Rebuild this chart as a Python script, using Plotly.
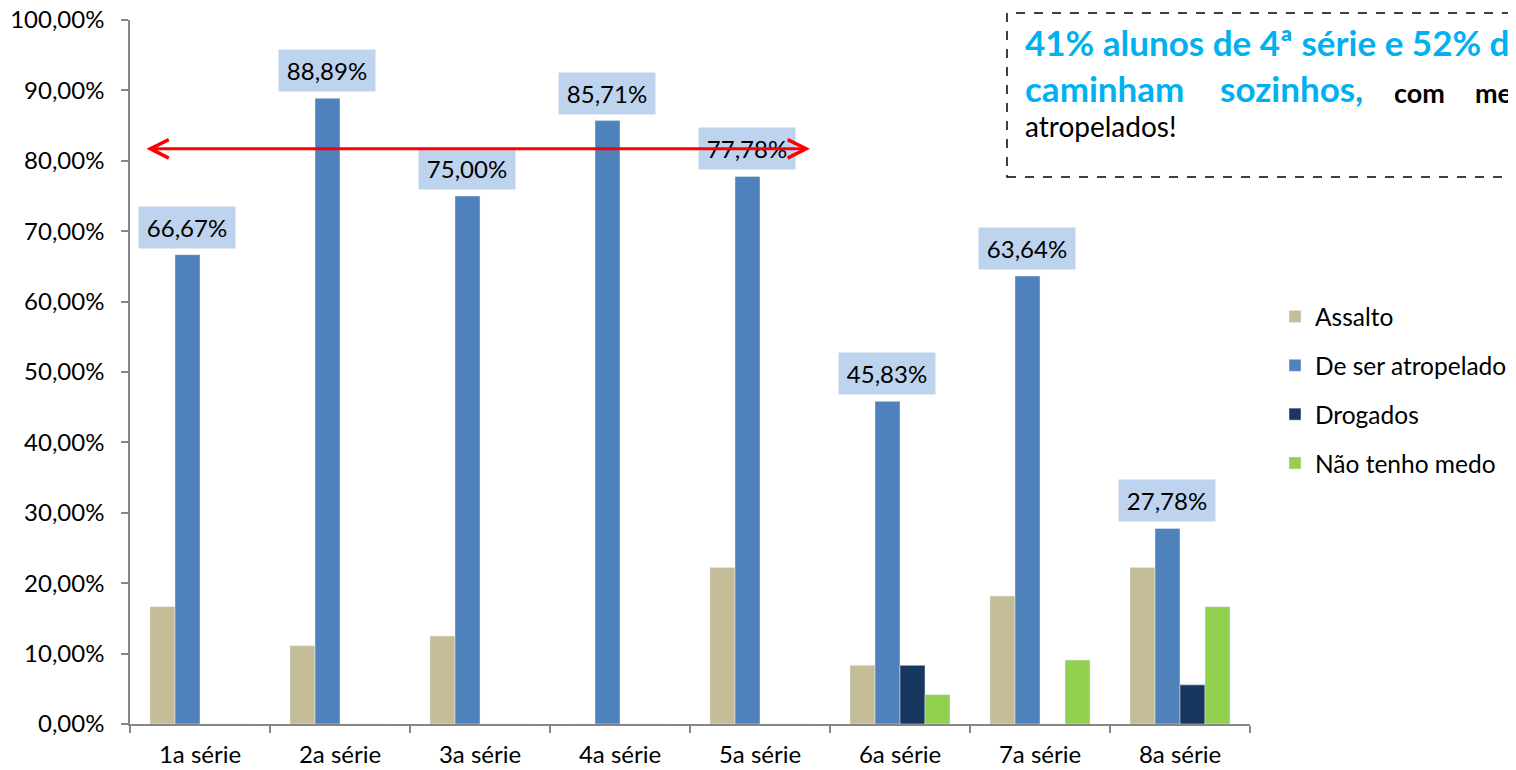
import plotly.graph_objects as go

categories = ["1a série", "2a série", "3a série", "4a série",
              "5a série", "6a série", "7a série", "8a série"]
series_names = ["Assalto", "De ser atropelado", "Drogados", "Não tenho medo"]
assalto = [0.1667, 0.1111, 0.1250, 0.0, 0.2222, 0.0833, 0.1818, 0.2222]
atropelado = [0.6667, 0.8889, 0.7500, 0.8571, 0.7778, 0.4583, 0.6364, 0.2778]
drogados = [0.0, 0.0, 0.0, 0.0, 0.0, 0.0833, 0.0, 0.0556]
sem_medo = [0.0, 0.0, 0.0, 0.0, 0.0, 0.0417, 0.0909, 0.1667]
y_ticks = [0.0, 0.1, 0.2, 0.3, 0.4, 0.5, 0.6, 0.7, 0.8, 0.9, 1.0]

colors = ["#C4BD97", "#4F81BD", "#17375E", "#92D050"]
FONT = "Lato"

# the page body has an 8px margin, so the figure is drawn 8px smaller
PAGE_PAD = 8
W, H = 1516 - PAGE_PAD, 770 - PAGE_PAD
L, R, T, B = 130 - PAGE_PAD, 266, 20 - PAGE_PAD, 46
BARGAP = 0.2857


def px2x(px):
    # px measured on the page
    return (px - PAGE_PAD - L) / (W - L - R)


def px2y(py):
    return (H - B - (py - PAGE_PAD)) / (H - T - B)


fig = go.Figure()
for name, vals, col in zip(series_names, [assalto, atropelado, drogados, sem_medo], colors):
    fig.add_trace(go.Bar(x=categories, y=vals, name=name, marker_color=col,
                         legendgroup=name))

# data labels on the "De ser atropelado" bars
cat_px = (W - L - R) / len(categories)
bar_px = cat_px * (1 - BARGAP) / 4
shift = (1 - 1.5) * bar_px
for c, v in zip(categories, atropelado):
    fig.add_annotation(x=c, y=v, text=f"{v*100:.2f}%".replace(".", ","),
                       showarrow=False, xshift=shift, yshift=6, width=84,
                       yanchor="bottom", bgcolor="#BED3EE", borderpad=6,
                       font=dict(family=FONT, size=24, color="black"))

# red double arrow
fig.add_annotation(x=4.357, y=0.817, ax=-0.393, ay=0.817, axref="x", ayref="y",
                   text="", showarrow=True, arrowcolor="#FF0000", arrowwidth=3,
                   arrowhead=5, arrowsize=1.2, arrowside="end+start",
                   startarrowhead=5, startarrowsize=1.2, standoff=0, startstandoff=0)

# dashed text box (runs past the right edge, as in the original slide)
fig.add_shape(type="rect", xref="paper", yref="paper",
              x0=px2x(1007), x1=px2x(1600), y0=px2y(177), y1=px2y(13),
              line=dict(color="black", width=1.5, dash="dash"))

cyan = "#00B0F0"
fig.add_annotation(xref="paper", yref="paper", x=px2x(1023), y=px2y(42),
                   xanchor="left", yanchor="middle", showarrow=False,
                   text="<b>41% alunos de 4ª série e 52% d</b>",
                   font=dict(family=FONT, size=35, color=cyan))
fig.add_annotation(xref="paper", yref="paper", x=px2x(1023), y=px2y(88),
                   xanchor="left", yanchor="middle", showarrow=False,
                   text="<b>caminham</b>", font=dict(family=FONT, size=35, color=cyan))
fig.add_annotation(xref="paper", yref="paper", x=px2x(1218), y=px2y(88),
                   xanchor="left", yanchor="middle", showarrow=False,
                   text="<b>sozinhos,</b>", font=dict(family=FONT, size=35, color=cyan))
fig.add_annotation(xref="paper", yref="paper", x=px2x(1392), y=px2y(92),
                   xanchor="left", yanchor="middle", showarrow=False,
                   text="<b>com</b>", font=dict(family=FONT, size=27, color="black"))
fig.add_annotation(xref="paper", yref="paper", x=px2x(1473), y=px2y(92),
                   xanchor="left", yanchor="middle", showarrow=False,
                   text="<b>me</b>", font=dict(family=FONT, size=27, color="black"))
fig.add_annotation(xref="paper", yref="paper", x=px2x(1023), y=px2y(126),
                   xanchor="left", yanchor="middle", showarrow=False,
                   text="atropelados!", font=dict(family=FONT, size=28, color="black"))

axis_col = "#868686"
fig.update_layout(
    width=W, height=H,
    margin=dict(l=L, r=R, t=T, b=B, autoexpand=False),
    paper_bgcolor="white", plot_bgcolor="white",
    barmode="group", bargap=BARGAP, bargroupgap=0,
    separators=",.",
    font=dict(family=FONT, size=24, color="black"),
    legend=dict(x=px2x(1275), y=px2y(390), xanchor="left", yanchor="middle",
                font=dict(family=FONT, size=24.5, color="black"),
                tracegroupgap=14, bgcolor="rgba(0,0,0,0)"),
)
fig.update_xaxes(showline=True, linecolor=axis_col, linewidth=1.5,
                 ticks="outside", tickson="boundaries", ticklen=7,
                 tickcolor=axis_col, tickwidth=1.5, showgrid=False,
                 ticklabelstandoff=8, automargin=False,
                 ticklabeloverflow="allow",
                 tickfont=dict(family=FONT, size=24, color="black"))
fig.update_yaxes(range=[0, 1], tickvals=y_ticks, tickformat=".2%",
                 showline=True, linecolor=axis_col, linewidth=1.5,
                 ticks="outside", ticklen=7, tickcolor=axis_col, tickwidth=1.5,
                 showgrid=False, zeroline=False, ticklabelstandoff=12,
                 automargin=False, ticklabeloverflow="allow",
                 tickfont=dict(family=FONT, size=24, color="black"))

fig.write_html("out.html")
